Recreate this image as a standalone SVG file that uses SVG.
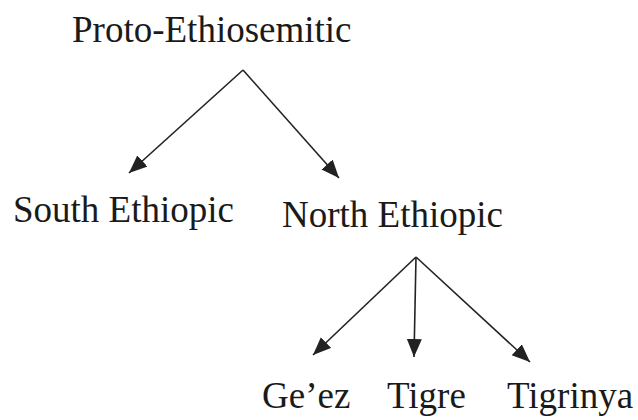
<svg xmlns="http://www.w3.org/2000/svg" width="638" height="420" viewBox="0 0 638 420">
<style>
.lbl{font-family:"Liberation Serif","Times New Roman",serif;font-size:37px;fill:#1a1a1a}
.edge{stroke:#222;stroke-width:1.6;fill:none}
</style>
<defs>
<marker id="ah" markerUnits="userSpaceOnUse" markerWidth="20" markerHeight="16" refX="18" refY="7.5" orient="auto">
<path d="M0,0 L18,7.5 L0,15 Z" fill="#222"/>
</marker>
</defs>
<rect width="638" height="420" fill="#fff"/>
<g id="connectors">
<line class="edge" x1="243" y1="70" x2="129" y2="173" marker-end="url(#ah)"/>
<line class="edge" x1="243" y1="70" x2="339" y2="178" marker-end="url(#ah)"/>
<line class="edge" x1="416" y1="257" x2="313" y2="355" marker-end="url(#ah)"/>
<line class="edge" x1="416" y1="257" x2="414" y2="357" marker-end="url(#ah)"/>
<line class="edge" x1="416" y1="257" x2="530" y2="362" marker-end="url(#ah)"/>
</g>
<g id="proto"><text class="lbl" x="72" y="42">Proto-Ethiosemitic</text></g>
<g id="south"><text class="lbl" x="13" y="222">South Ethiopic</text></g>
<g id="north"><text class="lbl" x="282" y="227">North Ethiopic</text></g>
<g id="geez"><text class="lbl" x="262" y="408">Ge’ez</text></g>
<g id="tigre"><text class="lbl" x="387" y="408">Tigre</text></g>
<g id="tigrinya"><text class="lbl" x="507" y="408">Tigrinya</text></g>
</svg>
